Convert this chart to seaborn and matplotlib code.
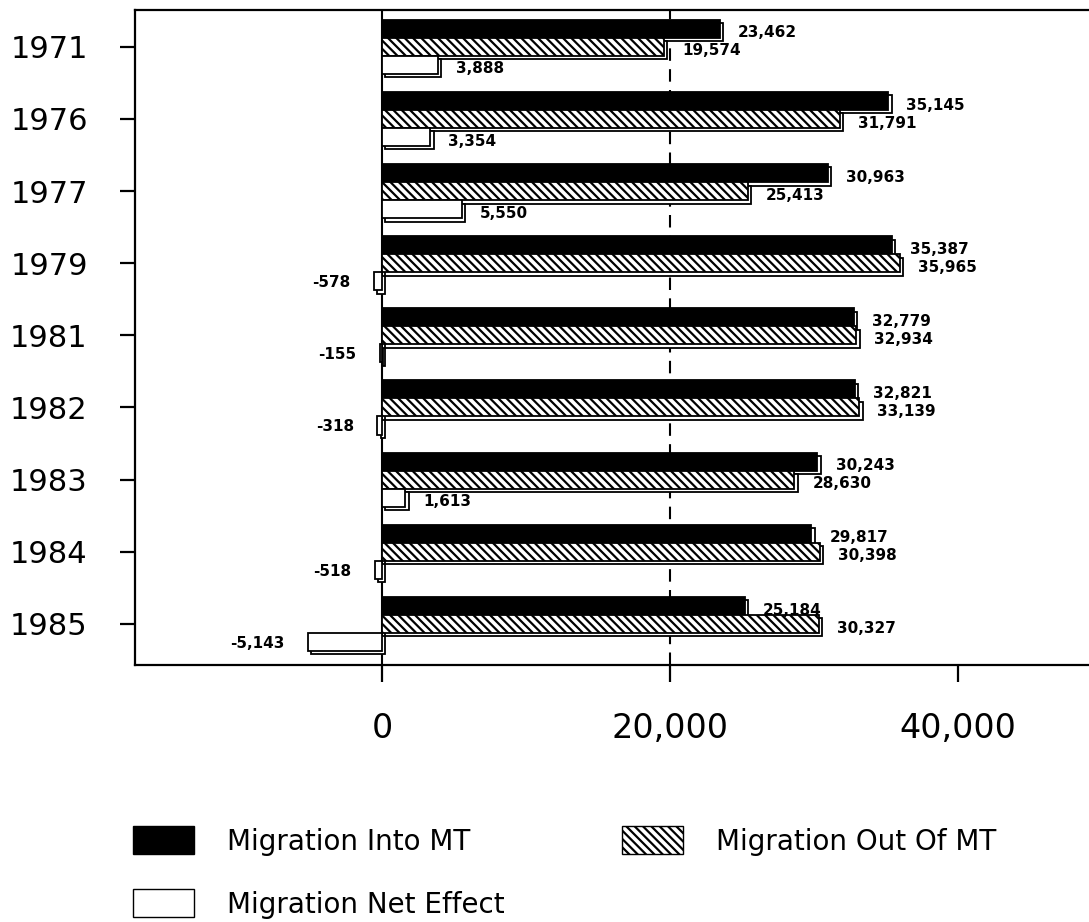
import matplotlib
matplotlib.use('Agg')
import matplotlib.pyplot as plt
import matplotlib.patheffects as pe
from matplotlib.patches import Patch
import seaborn as sns
import pandas as pd

years = ['1971', '1976', '1977', '1979', '1981', '1982', '1983', '1984', '1985']
into_mt = [23462, 35145, 30963, 35387, 32779, 32821, 30243, 29817, 25184]
out_of_mt = [19574, 31791, 25413, 35965, 32934, 33139, 28630, 30398, 30327]
net_effect = [3888, 3354, 5550, -578, -155, -318, 1613, -518, -5143]
series_names = ['Migration Into MT', 'Migration Out Of MT', 'Migration Net Effect']
x_ticks = [0, 20000, 40000]

sns.set_theme(style='white')
plt.rcParams['font.family'] = ['DejaVu Sans']
plt.rcParams['hatch.linewidth'] = 1.6
plt.rcParams['hatch.color'] = 'black'

df = pd.DataFrame({
    'year': years * 3,
    'value': into_mt + out_of_mt + net_effect,
    'series': [s for s in series_names for _ in years],
})

W, H = 1089, 922
fig = plt.figure(figsize=(W / 100, H / 100), dpi=100)
ax = fig.add_axes([135 / W, 1 - 665 / H, (1100 - 135) / W, (665 - 10) / H])

sns.barplot(data=df, y='year', x='value', hue='series', hue_order=series_names,
            order=years, orient='h', width=0.75,
            palette=['black', 'white', 'white'], edgecolor='black',
            linewidth=1.3, saturation=1, ax=ax, legend=False)

HATCH = '\\\\\\\\'
shadow = [pe.PathPatchEffect(offset=(2.5, -2.5), facecolor='white',
                             edgecolor='black', linewidth=1.3), pe.Normal()]
for i, cont in enumerate(ax.containers):
    for bar in cont:
        bar.set_path_effects(shadow)
        if i == 1:
            bar.set_hatch(HATCH)
    vals = [into_mt, out_of_mt, net_effect][i]
    for bar, v in zip(cont, vals):
        yc = bar.get_y() + bar.get_height() / 2
        if v >= 0:
            ax.annotate(f'{v:,}', xy=(v, yc), xytext=(13, -3), textcoords='offset points',
                        ha='left', va='center', fontsize=11, fontweight='bold', color='black')
        else:
            ax.annotate(f'{v:,}', xy=(v, yc), xytext=(-17, -1), textcoords='offset points',
                        ha='right', va='center', fontsize=11, fontweight='bold', color='black')

ax.axvline(0, color='black', lw=1.5, zorder=0.5)
ax.axvline(20000, color='black', lw=1.5, ls=(0, (6, 4)), zorder=0.5)

ax.set_xlim(-(382 - 135) * 20000 / 288, (1100 - 382) * 20000 / 288)
ax.set_ylim(8.57, -0.51)
ax.set_xticks(x_ticks)
ax.set_xticklabels([f'{t:,}' for t in x_ticks])
ax.set_xlabel('')
ax.set_ylabel('')

for s in ['top', 'left', 'bottom']:
    ax.spines[s].set_visible(True)
    ax.spines[s].set_color('black')
    ax.spines[s].set_linewidth(1.6)
ax.spines['right'].set_visible(False)

ax.tick_params(axis='y', left=True, direction='out', length=11, width=1.6,
               pad=23, labelsize=22, colors='black')
ax.tick_params(axis='x', bottom=True, direction='out', length=12, width=1.6,
               pad=22, labelsize=24, colors='black')

handles = [Patch(facecolor='black', edgecolor='black'),
           Patch(facecolor='white', edgecolor='black'),
           Patch(facecolor='white', edgecolor='black', hatch=HATCH)]
labels = [series_names[0], series_names[2], series_names[1]]
leg = fig.legend(handles, labels, loc='upper left', bbox_to_anchor=(133 / W, 1 - 826 / H),
                 ncol=2, frameon=False, fontsize=20, handlelength=2.2, handleheight=1.2,
                 handletextpad=1.2, columnspacing=4.2, labelspacing=1.2,
                 borderpad=0, borderaxespad=0)
for t in leg.get_texts():
    t.set_color('black')

fig.savefig('out.png', dpi=100)
